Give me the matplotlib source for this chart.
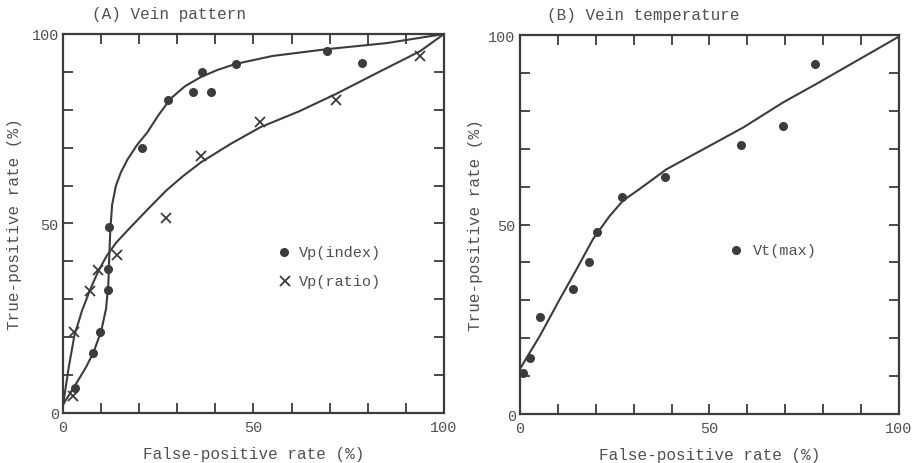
"""ROC curves: vein pattern vs vein temperature (scan recreation)."""
import numpy as np
import matplotlib; matplotlib.use("Agg")
import matplotlib.pyplot as plt

plt.rcParams["font.family"] = ["Liberation Mono", "DejaVu Sans Mono"]

INK = "#3c3c3c"
TXT = "#505050"

# ── Panel A data ─────────────────────────────────────────────────────
idx_fp = [3.1, 7.9, 9.7, 11.9, 11.9, 12.2, 20.8, 27.6, 34.0, 36.4, 38.8, 45.3, 69.3, 78.4]
idx_tp = [6.7, 15.7, 21.4, 32.5, 37.9, 49.2, 69.9, 82.5, 84.8, 89.9, 84.8, 92.0, 95.6, 92.4]
rat_fp = [2.7, 3.0, 7.1, 9.3, 14.1, 27.1, 36.3, 51.8, 71.7, 93.8]
rat_tp = [4.5, 21.4, 32.1, 37.6, 41.7, 51.5, 67.9, 76.7, 82.7, 94.1]

# fitted curves
idx_curve_fp = [0, 3, 6, 8, 10, 11.3, 11.9, 12.1, 12.4, 12.9, 13.9, 15.2, 17.0, 19.5, 22.1,
                25.0, 28.2, 32.0, 36.1, 40.5, 45.3, 55.0, 69.3, 85.0, 100]
idx_curve_tp = [2.2, 7.0, 12.0, 16.0, 21.5, 27.5, 34.0, 40.0, 48.0, 55.0, 60.0, 63.5, 67.0,
                70.8, 74.0, 78.5, 82.9, 86.2, 88.6, 90.5, 92.1, 94.2, 96.0, 97.6, 100]
rat_curve_fp = [0, 1.5, 3.0, 5.0, 7.1, 9.3, 11.5, 14.0, 18.0, 22.5, 27.1, 31.5, 36.3, 44.0,
                51.8, 62.0, 71.7, 82.0, 93.8, 100]
rat_curve_tp = [2.0, 12.0, 20.5, 27.0, 32.5, 37.5, 41.5, 45.0, 49.3, 54.0, 58.7, 62.5, 66.2,
                71.0, 75.4, 79.6, 84.2, 89.5, 95.5, 100]

# ── Panel B data ─────────────────────────────────────────────────────
vt_fp = [0.7, 2.6, 5.3, 13.9, 18.1, 20.2, 26.9, 38.3, 58.2, 69.5, 77.8]
vt_tp = [10.8, 14.8, 25.7, 33.0, 40.1, 48.0, 57.3, 62.6, 70.9, 76.1, 92.3]
vt_curve_fp = [0, 5.3, 10.5, 14.5, 19.3, 23.7, 27.2, 31.6, 38.7, 50.1, 58.9, 69.4, 78.2, 100]
vt_curve_tp = [11.9, 20.7, 30.3, 37.4, 46.2, 52.3, 56.3, 59.4, 64.6, 70.8, 75.6, 82.2, 87.1, 99.6]

fig = plt.figure(figsize=(9.13, 4.64), dpi=100)
axA = fig.add_axes([0.069, 0.1078, 0.4173, 0.8168])
axB = fig.add_axes([0.5695, 0.1056, 0.4152, 0.8168])


def style(ax, ylab_x):
    ax.set_xlim(0, 100)
    ax.set_ylim(0, 100)
    ax.set_xticks(np.arange(0, 101, 10))
    ax.set_yticks(np.arange(0, 101, 10))
    ax.set_xticklabels(["0", "", "", "", "", "50", "", "", "", "", "100"])
    ax.set_yticklabels(["0", "", "", "", "", "50", "", "", "", "", "100"])
    ax.tick_params(direction="in", length=7, width=1.3, color=INK,
                   top=True, right=True, labelsize=11, labelcolor=TXT)
    ax.tick_params(axis="x", pad=5)
    ax.tick_params(axis="y", pad=3)
    for sp in ax.spines.values():
        sp.set_color(INK)
        sp.set_linewidth(1.6)
    ax.set_xlabel("False-positive rate (%)", fontsize=11.5, color=TXT, labelpad=9)
    ax.set_ylabel("True-positive rate (%)", fontsize=11.5, color=TXT)
    ax.yaxis.set_label_coords(ylab_x, 0.5)


# Panel A
axA.plot(idx_curve_fp, idx_curve_tp, color=INK, lw=1.5)
axA.plot(rat_curve_fp, rat_curve_tp, color=INK, lw=1.5)
axA.plot(idx_fp, idx_tp, "o", color=INK, ms=5.5, clip_on=False)
axA.plot(rat_fp, rat_tp, "x", color=INK, ms=7, mew=1.3, clip_on=False)
axA.plot([57.9], [42.4], "o", color=INK, ms=5.5)
axA.text(61.8, 42.4, "Vp(index)", fontsize=11, color=TXT, va="center")
axA.plot([58.2], [34.7], "x", color=INK, ms=7, mew=1.3)
axA.text(61.8, 34.7, "Vp(ratio)", fontsize=11, color=TXT, va="center")
axA.text(0.076, 1.035, "(A) Vein pattern", transform=axA.transAxes,
         fontsize=11.5, color=TXT, va="bottom")
style(axA, -0.108)

# Panel B
axB.plot(vt_curve_fp, vt_curve_tp, color=INK, lw=1.5)
axB.plot(vt_fp, vt_tp, "o", color=INK, ms=5.5, clip_on=False)
axB.plot([57.1], [43.3], "o", color=INK, ms=5.5)
axB.text(61.5, 43.3, "Vt(max)", fontsize=11, color=TXT, va="center")
axB.text(0.071, 1.035, "(B) Vein temperature", transform=axB.transAxes,
         fontsize=11.5, color=TXT, va="bottom")
style(axB, -0.098)

fig.savefig("out.png", dpi=100, facecolor="white")
plt.close(fig)
